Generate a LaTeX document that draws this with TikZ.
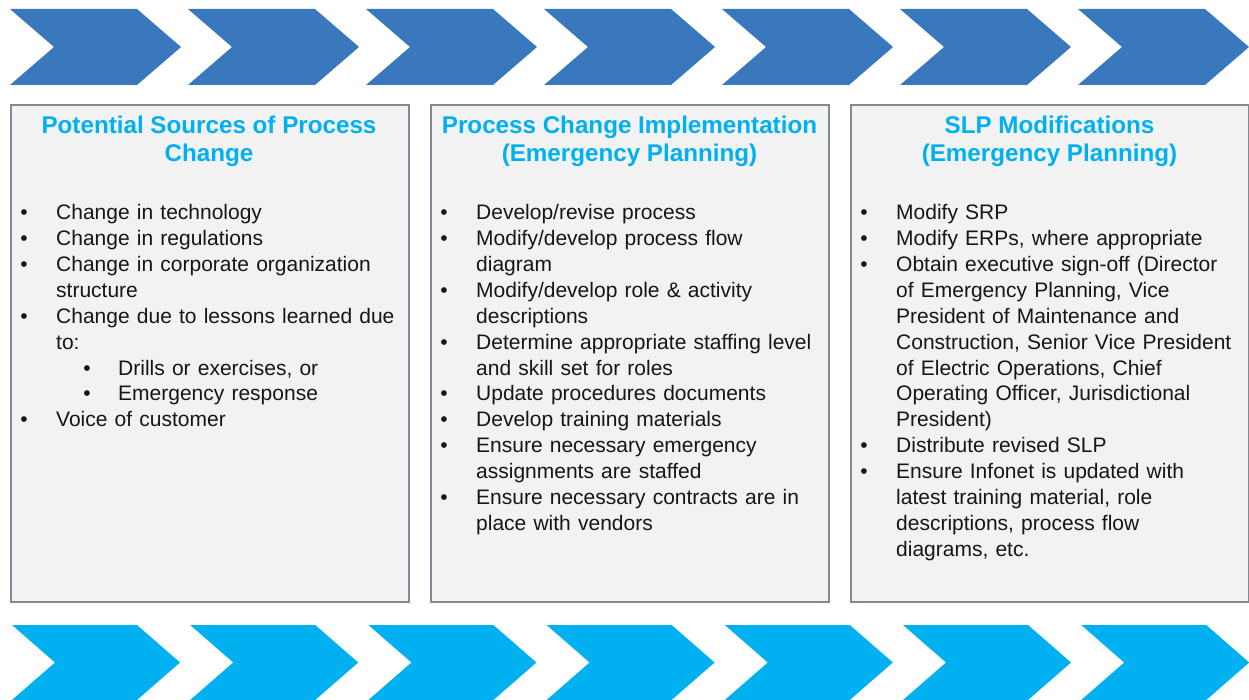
\documentclass[tikz,border=0pt]{standalone}
\usepackage{fontspec}
\setmainfont{Liberation Sans}
\newfontfamily\bodyfnt[WordSpace=1.23]{Liberation Sans}
\definecolor{topblue}{RGB}{58,120,190}
\definecolor{cyanb}{RGB}{0,176,240}
\definecolor{boxfill}{RGB}{242,242,242}
\definecolor{boxline}{RGB}{127,138,149}
\definecolor{ink}{RGB}{22,22,22}
\begin{document}
\begin{tikzpicture}[x=1pt,y=-1pt,
  box/.style={draw=boxline, line width=2pt, fill=boxfill, inner sep=0pt,
    minimum width=398pt, minimum height=496pt},
  ttl/.style={anchor=base, inner sep=0pt, text=cyanb,
    font=\fontsize{24.2}{29}\selectfont\bfseries},
  body/.style={anchor=base west, inner sep=0pt, text=ink,
    font=\bodyfnt\fontsize{21}{25.85}\selectfont},
  bul/.style={anchor=base, inner sep=0pt, text=ink,
    font=\fontsize{21}{25.85}\selectfont}]
\useasboundingbox (0,0) rectangle (1249,700);
% top chevrons
\foreach \i in {0,...,6}{
  \pgfmathsetmacro\xo{10+178*\i}
  \fill[topblue] (\xo,9) -- ++(127,0) -- ++(44,38) -- ++(-44,38) -- ++(-127,0) -- ++(44,-38) -- cycle;
}
% bottom chevrons
\foreach \i in {0,...,6}{
  \pgfmathsetmacro\xo{12+178.2*\i}
  \fill[cyanb] (\xo,625) -- ++(125,0) -- ++(43,37.5) -- ++(-43,37.5) -- ++(-125,0) -- ++(43,-37.5) -- cycle;
}
% boxes
\node[box] (b1) at (209.5,353.5) {};
\node[box] (b2) at (629.5,353.5) {};
\node[box] (b3) at (1049.5,353.5) {};
% titles
\node[ttl] (t1a) at (209,133.5) {Potential Sources of Process};
\node[ttl] (t1b) at (209,162) {Change};
\node[ttl] (t2a) at (629.5,133.5) {Process Change Implementation};
\node[ttl] (t2b) at (629.5,162) {(Emergency Planning)};
\node[ttl] (t3a) at (1049.5,133.5) {SLP Modifications};
\node[ttl] (t3b) at (1049.5,162) {(Emergency Planning)};
% column 1
\def\cx{10}
\foreach \k/\lv/\t [count=\n] in {
  0/1/{Change in technology},
  1/1/{Change in regulations},
  2/1/{Change in corporate organization},
  3/0/{structure},
  4/1/{Change due to lessons learned due},
  5/0/{to:},
  6/2/{Drills or exercises, or},
  7/2/{Emergency response},
  8/1/{Voice of customer}}{
  \node[body] (a\n) at ({\cx+46+62*(\lv==2)},{220+25.85*\k}) {\t};
  \ifnum\lv>0
    \node[bul] (ab\n) at ({\cx+14+63*(\lv==2)},{220+25.85*\k}) {•};
  \fi
}
% column 2
\def\cx{430}
\foreach \k/\lv/\t [count=\n] in {
  0/1/{Develop/revise process},
  1/1/{Modify/develop process flow},
  2/0/{diagram},
  3/1/{Modify/develop role \& activity},
  4/0/{descriptions},
  5/1/{Determine appropriate staffing level},
  6/0/{and skill set for roles},
  7/1/{Update procedures documents},
  8/1/{Develop training materials},
  9/1/{Ensure necessary emergency},
  10/0/{assignments are staffed},
  11/1/{Ensure necessary contracts are in},
  12/0/{place with vendors}}{
  \node[body] (m\n) at ({\cx+46},{220+25.85*\k}) {\t};
  \ifnum\lv>0
    \node[bul] (mb\n) at ({\cx+14},{220+25.85*\k}) {•};
  \fi
}
% column 3
\def\cx{850}
\foreach \k/\lv/\t [count=\n] in {
  0/1/{Modify SRP},
  1/1/{Modify ERPs, where appropriate},
  2/1/{Obtain executive sign-off (Director},
  3/0/{of Emergency Planning, Vice},
  4/0/{President of Maintenance and},
  5/0/{Construction, Senior Vice President},
  6/0/{of Electric Operations, Chief},
  7/0/{Operating Officer, Jurisdictional},
  8/0/{President)},
  9/1/{Distribute revised SLP},
  10/1/{Ensure Infonet is updated with},
  11/0/{latest training material, role},
  12/0/{descriptions, process flow},
  13/0/{diagrams, etc.}}{
  \node[body] (r\n) at ({\cx+46},{220+25.85*\k}) {\t};
  \ifnum\lv>0
    \node[bul] (rb\n) at ({\cx+14},{220+25.85*\k}) {•};
  \fi
}
\end{tikzpicture}
\end{document}
